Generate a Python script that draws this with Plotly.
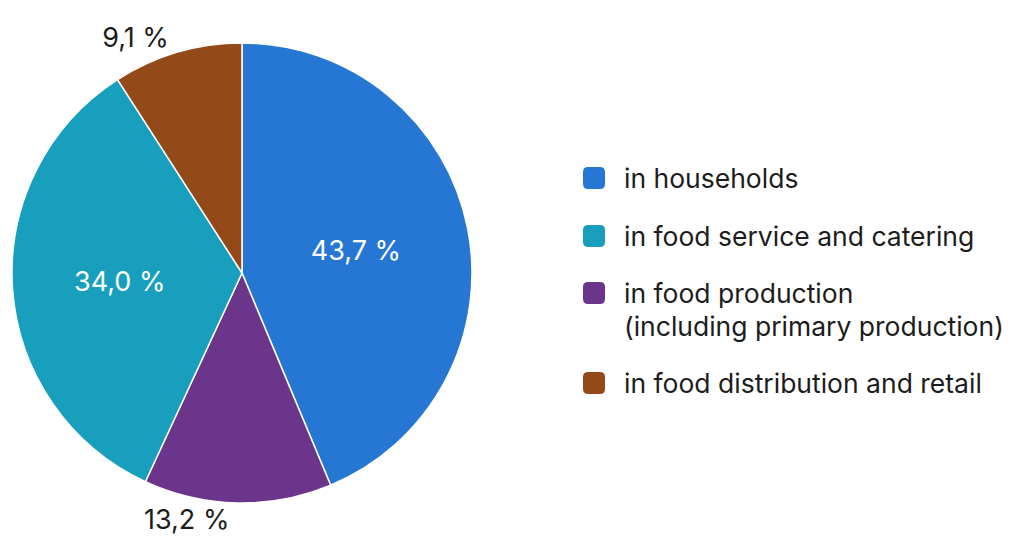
import plotly.graph_objects as go

# Data
categories = ["in households", "in food production (including primary production)",
              "in food service and catering", "in food distribution and retail"]
values = [43.7, 13.2, 34.0, 9.1]
colors = ["#2677D3", "#6C358C", "#179FBD", "#944A18"]
text_pos = ["inside", "outside", "inside", "outside"]

legend_order = [0, 2, 1, 3]
legend_lines = [["in households"], ["in food service and catering"],
                ["in food production", "(including primary production)"],
                ["in food distribution and retail"]]

W, H = 1019, 550
cx, cy, r = 242, 273, 230

fig = go.Figure()
fig.add_trace(go.Pie(
    labels=categories,
    values=values,
    sort=False,
    direction="clockwise",
    rotation=0,
    marker=dict(colors=colors, line=dict(color="white", width=1.5)),
    texttemplate="%{value:.1f} %",
    textposition=text_pos,
    insidetextorientation="horizontal",
    insidetextfont=dict(color="white", size=27, family="Inter"),
    outsidetextfont=dict(color="#1c1c1c", size=27, family="Inter"),
    showlegend=False,
    domain=dict(x=[(cx - r) / W, (cx + r) / W], y=[1 - (cy + r) / H, 1 - (cy - r) / H]),
    hoverinfo="label+value",
))

# Custom legend
legend_y = [178, 236, 293, 383]
line_gap = 33
sq = 22
rad = 5
shapes = []
annotations = []


def px(x):
    return x / W


def py(y):
    return 1 - y / H


for i, idx in enumerate(legend_order):
    yc = legend_y[i]
    x0, x1 = 583, 583 + sq
    y0, y1 = yc - sq / 2, yc + sq / 2
    path = (f"M {px(x0 + rad)},{py(y0)} L {px(x1 - rad)},{py(y0)} "
            f"Q {px(x1)},{py(y0)} {px(x1)},{py(y0 + rad)} L {px(x1)},{py(y1 - rad)} "
            f"Q {px(x1)},{py(y1)} {px(x1 - rad)},{py(y1)} L {px(x0 + rad)},{py(y1)} "
            f"Q {px(x0)},{py(y1)} {px(x0)},{py(y1 - rad)} L {px(x0)},{py(y0 + rad)} "
            f"Q {px(x0)},{py(y0)} {px(x0 + rad)},{py(y0)} Z")
    shapes.append(dict(type="path", path=path, xref="paper", yref="paper",
                       fillcolor=colors[idx], line=dict(width=0)))
    for k, line in enumerate(legend_lines[i]):
        annotations.append(dict(
            x=px(622), y=py(yc + k * line_gap), xref="paper", yref="paper",
            xanchor="left", yanchor="middle", text=line, showarrow=False, align="left",
            font=dict(size=26.5, color="#1c1c1c", family="Inter"),
        ))

fig.update_layout(
    width=W, height=H,
    margin=dict(l=0, r=0, t=0, b=0),
    paper_bgcolor="white", plot_bgcolor="white",
    separators=", ",
    shapes=shapes,
    annotations=annotations,
)

fig.write_html("out.html")
